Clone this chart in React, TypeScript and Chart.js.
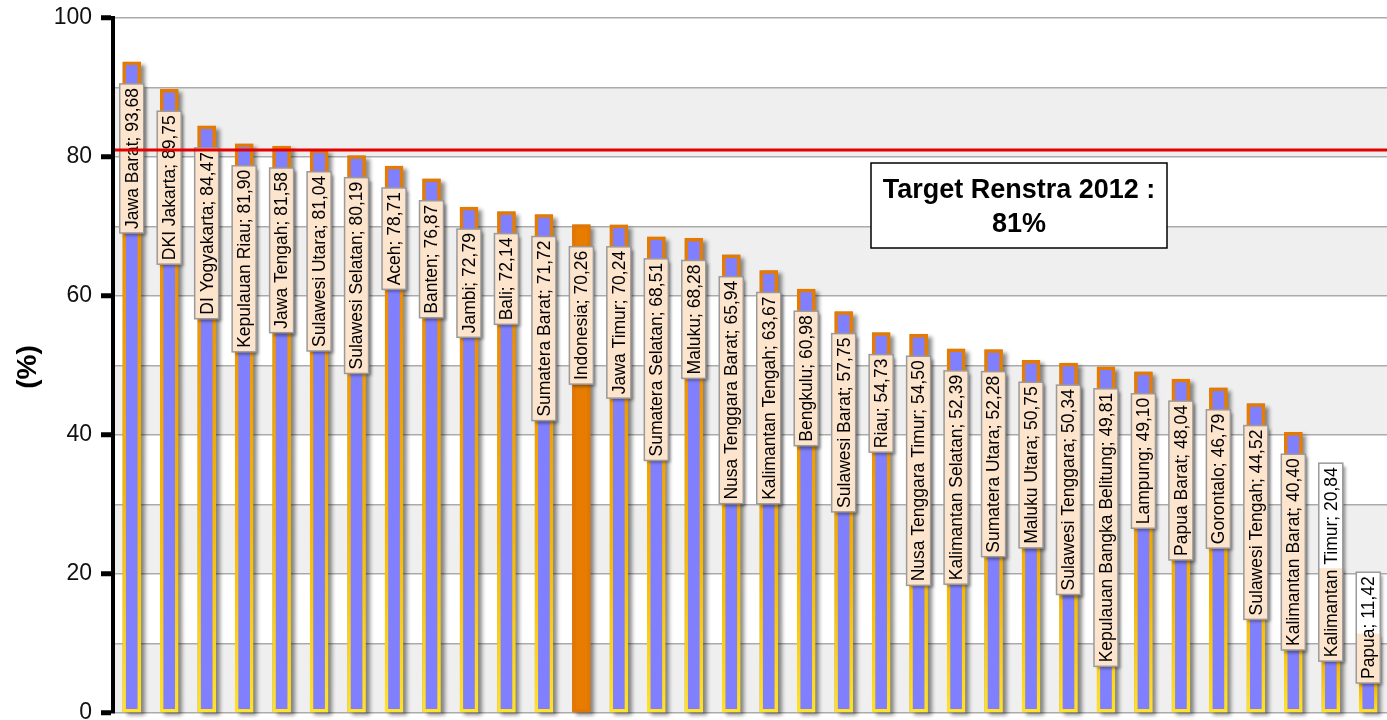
import React, { useEffect, useRef } from 'react';
import { Chart, registerables } from 'chart.js';

Chart.register(...registerables);

const categories: string[] = [
  'Jawa Barat', 'DKI Jakarta', 'DI Yogyakarta', 'Kepulauan Riau', 'Jawa Tengah',
  'Sulawesi Utara', 'Sulawesi Selatan', 'Aceh', 'Banten', 'Jambi', 'Bali',
  'Sumatera Barat', 'Indonesia', 'Jawa Timur', 'Sumatera Selatan', 'Maluku',
  'Nusa Tenggara Barat', 'Kalimantan Tengah', 'Bengkulu', 'Sulawesi Barat', 'Riau',
  'Nusa Tenggara Timur', 'Kalimantan Selatan', 'Sumatera Utara', 'Maluku Utara',
  'Sulawesi Tenggara', 'Kepulauan Bangka Belitung', 'Lampung', 'Papua Barat',
  'Gorontalo', 'Sulawesi Tengah', 'Kalimantan Barat', 'Kalimantan Timur', 'Papua',
];

const values: number[] = [
  93.68, 89.75, 84.47, 81.90, 81.58,
  81.04, 80.19, 78.71, 76.87, 72.79, 72.14,
  71.72, 70.26, 70.24, 68.51, 68.28,
  65.94, 63.67, 60.98, 57.75, 54.73,
  54.50, 52.39, 52.28, 50.75,
  50.34, 49.81, 49.10, 48.04,
  46.79, 44.52, 40.40, 20.84, 11.42,
];

const highlightCategory = 'Indonesia';
const targetValue = 81;
const targetText: string[] = ['Target Renstra 2012 :', '81%'];
const yAxisTitle = '(%)';
const yMin = 0;
const yMax = 100;
const yGridStep = 10;
const yLabelStep = 20;

const FONT = '"Liberation Sans", Arial, Helvetica, sans-serif';

const fmt = (v: number) => v.toFixed(2).replace('.', ',');

const bandsPlugin = {
  id: 'bands',
  beforeDraw(chart: any) {
    const { ctx, chartArea } = chart;
    const ys = chart.scales.y;
    ctx.save();
    ctx.fillStyle = '#efefef';
    for (let v = yMin; v < yMax; v += yLabelStep) {
      const y1 = ys.getPixelForValue(v);
      const y2 = ys.getPixelForValue(v + yGridStep);
      ctx.fillRect(chartArea.left, y2, chartArea.right - chartArea.left, y1 - y2);
    }
    ctx.restore();
  },
};

const shadowPlugin = {
  id: 'barShadow',
  beforeDatasetsDraw(chart: any) {
    const { ctx } = chart;
    const meta = chart.getDatasetMeta(0);
    ctx.save();
    ctx.shadowColor = 'rgba(0,0,0,0.45)';
    ctx.shadowOffsetX = 4;
    ctx.shadowOffsetY = 3;
    ctx.shadowBlur = 4;
    ctx.fillStyle = '#888';
    meta.data.forEach((bar: any) => {
      const { x, y, base, width } = bar.getProps(['x', 'y', 'base', 'width'], true);
      ctx.fillRect(x - width / 2, y, width, base - y);
    });
    ctx.restore();
  },
};

const labelsPlugin = {
  id: 'barLabels',
  afterDatasetsDraw(chart: any) {
    const { ctx } = chart;
    const meta = chart.getDatasetMeta(0);
    ctx.save();
    ctx.font = `17.5px ${FONT}`;
    meta.data.forEach((bar: any, i: number) => {
      const { x, y, base } = bar.getProps(['x', 'y', 'base'], true);
      const text = `${categories[i]}; ${fmt(values[i])}`;
      const tw = ctx.measureText(text).width;
      const boxLen = tw + 8;
      const boxW = 24;
      let top = y + 22;
      if (top + boxLen > base - 8) top = y - 6 - boxLen / 2;
      const left = x - boxW / 2;
      ctx.save();
      ctx.shadowColor = 'rgba(0,0,0,0.4)';
      ctx.shadowOffsetX = 3;
      ctx.shadowOffsetY = 3;
      ctx.shadowBlur = 3;
      ctx.fillStyle = '#ffffff';
      ctx.fillRect(left, top, boxW, boxLen);
      ctx.restore();
      const oTop = Math.max(top, y);
      const oBot = Math.min(top + boxLen, base);
      if (oBot > oTop) {
        ctx.fillStyle = '#fde4cc';
        ctx.fillRect(left, oTop, boxW, oBot - oTop);
      }
      ctx.strokeStyle = '#9a9a9a';
      ctx.lineWidth = 1.5;
      ctx.strokeRect(left, top, boxW, boxLen);
      ctx.save();
      ctx.translate(x, top + boxLen / 2);
      ctx.rotate(-Math.PI / 2);
      ctx.textAlign = 'center';
      ctx.textBaseline = 'middle';
      ctx.fillStyle = '#000';
      ctx.fillText(text, 0, 1);
      ctx.restore();
    });
    ctx.restore();
  },
};

const targetPlugin = {
  id: 'target',
  afterDraw(chart: any) {
    const { ctx, chartArea } = chart;
    const ys = chart.scales.y;
    const yT = ys.getPixelForValue(targetValue);
    ctx.save();
    ctx.strokeStyle = '#e40000';
    ctx.lineWidth = 3;
    ctx.beginPath();
    ctx.moveTo(chartArea.left + 2, yT);
    ctx.lineTo(chartArea.right, yT);
    ctx.stroke();

    // annotation box
    const bx = 871, by = 163, bw = 296, bh = 85;
    ctx.fillStyle = '#ffffff';
    ctx.fillRect(bx, by, bw, bh);
    ctx.strokeStyle = '#000';
    ctx.lineWidth = 1.5;
    ctx.strokeRect(bx, by, bw, bh);
    ctx.fillStyle = '#000';
    ctx.font = `bold 27px ${FONT}`;
    ctx.textAlign = 'center';
    ctx.textBaseline = 'alphabetic';
    ctx.fillText(targetText[0], bx + bw / 2, 198);
    ctx.fillText(targetText[1], bx + bw / 2, 232);

    // y-axis title
    ctx.save();
    ctx.translate(28, 367);
    ctx.rotate(-Math.PI / 2);
    ctx.font = `bold 28px ${FONT}`;
    ctx.textAlign = 'center';
    ctx.textBaseline = 'middle';
    ctx.fillText(yAxisTitle, 0, 0);
    ctx.restore();
    ctx.restore();
  },
};

export default function App() {
  const ref = useRef<HTMLCanvasElement | null>(null);

  useEffect(() => {
    if (!ref.current) return;
    const chart = new Chart(ref.current, {
      type: 'bar',
      data: {
        labels: categories,
        datasets: [
          {
            data: values,
            barThickness: 18,
            borderWidth: 3.5,
            borderSkipped: false,
            backgroundColor: (c: any) =>
              categories[c.dataIndex] === highlightCategory ? '#e67c00' : '#8080ff',
            borderColor: (c: any) => {
              if (categories[c.dataIndex] === highlightCategory) return '#e27600';
              const chartRef = c.chart;
              const ys = chartRef.scales && chartRef.scales.y;
              if (!ys || c.dataIndex === undefined) return '#f0a000';
              const top = ys.getPixelForValue(values[c.dataIndex]);
              const base = ys.getPixelForValue(0);
              if (!isFinite(top) || !isFinite(base) || base - top < 1) return '#f0a000';
              const g = chartRef.ctx.createLinearGradient(0, top, 0, base);
              g.addColorStop(0, '#e67a00');
              g.addColorStop(0.25, '#ee8e00');
              g.addColorStop(0.65, '#f6b600');
              g.addColorStop(1, '#ffe22a');
              return g;
            },
          } as any,
        ],
      },
      options: {
        responsive: false,
        animation: false,
        events: [],
        layout: { padding: { top: 18, bottom: 27, left: 0, right: 0 } },
        plugins: {
          legend: { display: false },
          tooltip: { enabled: false },
          title: { display: false },
        },
        scales: {
          x: {
            type: 'category',
            display: false,
            offset: true,
            grid: { display: false },
          },
          y: {
            min: yMin,
            max: yMax,
            afterFit: (s: any) => {
              s.width = 113;
              s.paddingTop = 0;
              s.paddingBottom = 0;
            },
            ticks: {
              stepSize: yGridStep,
              padding: 9,
              color: '#111',
              font: { size: 23, family: FONT },
              callback: (v: any) => (Number(v) % yLabelStep === 0 ? String(v) : ''),
            },
            grid: {
              color: '#ababab',
              lineWidth: 1.5,
              tickLength: 12,
              tickWidth: 5,
              tickColor: (c: any) =>
                c.tick && Number(c.tick.value) % yLabelStep === 0 ? '#000' : 'rgba(0,0,0,0)',
            },
            border: { display: true, color: '#000', width: 4 },
          },
        },
      } as any,
      plugins: [bandsPlugin, shadowPlugin, labelsPlugin, targetPlugin],
    });
    return () => chart.destroy();
  }, []);

  return (
    <div
      style={{
        position: 'fixed',
        left: 0,
        top: 0,
        width: 1387,
        height: 720,
        overflow: 'hidden',
        background: '#fff',
      }}
    >
      <canvas ref={ref} width={1387} height={740} style={{ display: 'block', width: 1387, height: 740 }} />
    </div>
  );
}
